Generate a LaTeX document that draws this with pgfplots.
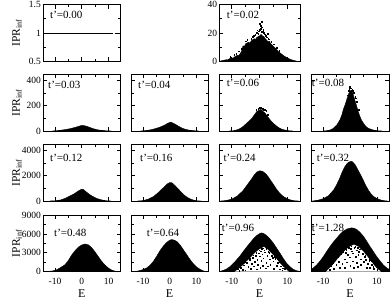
\documentclass[border=0pt]{standalone}
\usepackage{fontspec}
\setmainfont{Liberation Serif}
\usepackage{pgfplots}
\pgfplotsset{compat=1.18}
\pgfplotsset{
  panel/.style={
    scale only axis, height=56.7pt,
    anchor=north west,
    xmin=-14.5, xmax=14.5, ymin=0,
    axis line style={line width=0.8pt},
    every tick/.style={black, line width=0.8pt},
    tick align=inside,
    xtick={-10,0,10}, minor x tick num=1, minor y tick num=1,
    major tick length=4pt, minor tick length=2.5pt,
    xticklabels={}, yticklabels={},
    scaled ticks=false,
    tick label style={font=\fontsize{9.5}{10}\selectfont},
    yticklabel style={inner sep=2pt},
    xticklabel style={yshift=-3pt},
    clip mode=individual,
    every axis y label/.style={at={(rel axis cs:-0.335,0.5)}, rotate=90, anchor=center, font=\fontsize{11.5}{12}\selectfont},
    every axis x label/.style={at={(rel axis cs:0.5,-0.38)}, anchor=center, font=\fontsize{12}{12}\selectfont},
  },
  env/.style={fill=black, draw=black, line width=0.4pt},
  hole/.style={fill=white, draw=none},
  bdot/.style={only marks, mark=square*, mark size=0.35pt, mark options={fill=black, draw=none}},
  wdot/.style={only marks, mark=square*, mark size=0.5pt, mark options={fill=white, draw=none}},
}
\newcommand{\tlab}[3]{\node[anchor=west, inner sep=0pt, font=\fontsize{11}{11}\selectfont, xshift=#1pt, yshift=-#2pt] at (rel axis cs:0,1) {t'=#3};}
\begin{document}
\begin{tikzpicture}
\path[use as bounding box] (0pt,0pt) rectangle (390pt,-299pt);
% ---------------- row 1 ----------------
\begin{axis}[panel, at={(43pt,-4.7pt)}, width=77.7pt, ymin=0.5, ymax=1.5,
  ytick={0.5,1,1.5}, yticklabels={0.5,1,1.5}, ylabel={IPR\textsubscript{inf}}]
\addplot[black, line width=0.9pt] coordinates {(-14.5,1) (11.6,1)};
\addplot[black, line width=0.9pt] coordinates {(12.2,1) (13.2,1)};
\tlab{7}{10.3}{0.00}
\end{axis}
\begin{axis}[panel, at={(219.3pt,-4.7pt)}, width=80.7pt, ymax=40,
  ytick={0,20,40}, yticklabels={0,20,40}]
\addplot[env] coordinates {(-14,0.3) (-13,0.8) (-12,1.2) (-11.5,1.0) (-11,1.8) (-10,2.5) (-9.5,2.2) (-9,3.2) (-8,4.3) (-7.5,4.0) (-7,5.5) (-6.5,7) (-6,11) (-5.5,10.5) (-5,12.5) (-4,13.5) (-3.5,13) (-3,14.5) (-2,16) (-1.5,15.5) (-1,17) (0,18) (0.5,19) (1,18) (1.5,17.5) (2,16) (3,14) (3.5,14.2) (4,12.5) (5,10.5) (6,8.5) (7,6.5) (8,5) (9,3.5) (10,2.5) (11,1.5) (12,0.8) (13,0.3) (13.5,0)} \closedcycle;
\addplot[bdot] coordinates {(-1.1,20.2) (0.1,22.3) (0.45,25.4) (1.05,21.1) (-0.55,19.6) (1.45,20.4) (0.25,23.2) (-2.1,18.1) (2.05,18.2) (3.1,16.1) (-3.05,16.2) (4.1,14.1) (-4.9,14.2) (-6.4,9.1) (-7.6,7.1) (-9.1,4.6) (0.85,24.1) (1.25,22.6) (-0.35,21.2) (2.55,17.1) (3.45,15.6) (5.1,12.1) (6.05,9.6) (-4.45,15.1) (-1.55,18.6) (0.65,20.9) (-0.85,22.1) (1.85,19.2) (-10.55,3.4) (-8.45,5.6) (7.05,7.6) (-0.1,26.5) (0.7,27.8) (-2.6,17.4) (2.8,19.6)};
\tlab{7.4}{10.3}{0.02}
\end{axis}
% ---------------- row 2 ----------------
\begin{axis}[panel, at={(43pt,-74.3pt)}, width=77.7pt, ymax=450,
  ytick={0,200,400}, yticklabels={0,200,400}, ylabel={IPR\textsubscript{inf}}]
\addplot[env] coordinates {(-11,0) (-9.5,2) (-8,6) (-6,12) (-4,20) (-2,32) (-1,38) (0,45) (1,42) (2,36) (3,28) (4,20) (5,14) (6,9) (7,6) (8,4) (9,2) (10.5,0.5) (11,0)} \closedcycle;
\tlab{5}{10.7}{0.03}
\end{axis}
\begin{axis}[panel, at={(131pt,-74.3pt)}, width=77.3pt, ymax=450, ytick={0,200,400}]
\addplot[env] coordinates {(-11,0) (-10,1) (-8,6) (-6,15) (-4,28) (-2,45) (-1,58) (0,68) (0.5,70) (1,65) (2,55) (3,42) (4,30) (5,20) (6,13) (7,8) (8,5) (9,3) (10,1) (11,0)} \closedcycle;
\tlab{7}{10.7}{0.04}
\end{axis}
\begin{axis}[panel, at={(219.3pt,-74.3pt)}, width=80.7pt, ymax=450, ytick={0,200,400}]
\addplot[env] coordinates {(-11,0) (-9.5,2) (-8,10) (-7,20) (-6,35) (-5,55) (-4,75) (-3,95) (-2,125) (-1,155) (0,168) (0.5,172) (1,160) (2,140) (3,110) (4,82) (5,60) (6,40) (7,25) (8,14) (9,8) (10,4) (11,1) (12,0)} \closedcycle;
\addplot[bdot] coordinates {(-0.5,175) (0.05,180) (0.6,185) (1.2,178) (1.8,170) (2.4,160) (-1.2,168) (3,128) (0.3,190) (-0.2,184) (1.5,165)};
\tlab{7.4}{9}{0.06}
\end{axis}
\begin{axis}[panel, at={(311pt,-74.3pt)}, width=78pt, ymax=450, ytick={0,200,400}]
\addplot[env] coordinates {(-10,0) (-8.5,3) (-7.4,8) (-6.2,21) (-4.9,48) (-3.7,90) (-3,130) (-2.5,170) (-1.8,210) (-1.2,250) (-0.6,290) (0,318) (0.5,325) (1.2,290) (1.8,245) (2.5,196) (3.1,150) (3.7,115) (4.3,85) (5,62) (5.6,44) (6.2,30) (7,20) (8,12) (9,6) (10,3) (11,1) (12,0)} \closedcycle;
\addplot[bdot] coordinates {(0.3,340) (0.8,330) (1.5,305) (-0.5,320) (1.9,275) (2.6,230) (0,350) (-0.3,335) (1.1,320) (2.2,260) (3.2,170) (-1,285)};
\tlab{0.7}{9}{0.08}
\end{axis}
% ---------------- row 3 ----------------
\begin{axis}[panel, at={(43pt,-144.3pt)}, width=77.7pt, ymax=4500,
  ytick={0,2000,4000}, yticklabels={0,2000,4000}, ylabel={IPR\textsubscript{inf}}]
\addplot[env] coordinates {(-12,0) (-10,20) (-8,80) (-6,230) (-4,450) (-3,560) (-2,700) (-1,840) (0,940) (0.5,920) (1,840) (2,660) (3,500) (4,370) (5,260) (6,170) (7,110) (8,60) (9,25) (10,8) (11,0)} \closedcycle;
\tlab{7}{14}{0.12}
\end{axis}
\begin{axis}[panel, at={(131pt,-144.3pt)}, width=77.3pt, ymax=4500, ytick={0,2000,4000}]
\addplot[env] coordinates {(-12,0) (-10,30) (-8,150) (-6,360) (-4,720) (-2,1130) (-1,1340) (0,1460) (0.5,1470) (1,1420) (2,1230) (3,1010) (4,780) (5,560) (6,380) (7,240) (8,140) (9,70) (10,25) (11,5) (12,0)} \closedcycle;
\tlab{9}{14}{0.16}
\end{axis}
\begin{axis}[panel, at={(219.3pt,-144.3pt)}, width=80.7pt, ymax=4500, ytick={0,2000,4000}]
\addplot[env] coordinates {(-14,0) (-12,40) (-10,150) (-8,400) (-6,820) (-4,1420) (-3,1720) (-2,2050) (-1,2300) (0,2400) (1,2360) (2,2200) (3,1950) (4,1620) (5,1300) (6,960) (7,680) (8,450) (9,290) (10,180) (11,90) (12,35) (13,10) (14,0)} \closedcycle;
\addplot[wdot] coordinates {(-0.3,300) (0,600) (0.3,150) (0.6,900) (0.8,400) (1.1,700) (1.4,250) (1.7,500) (2,150) (-0.8,200)};
\tlab{4}{14}{0.24}
\end{axis}
\begin{axis}[panel, at={(311pt,-144.3pt)}, width=78pt, ymax=4500, ytick={0,2000,4000}]
\addplot[env] coordinates {(-14,0) (-12,60) (-10,180) (-8,420) (-6,900) (-5,1280) (-4,1720) (-3,2250) (-2,2700) (-1,3000) (0,3130) (0.5,3150) (1,3100) (2,2850) (3,2450) (4,2050) (5,1620) (6,1180) (7,800) (8,520) (9,320) (10,200) (11,110) (12,50) (13,15) (14,0)} \closedcycle;
\addplot[wdot] coordinates {(0,400) (0.3,900) (0.6,1400) (0.5,200) (1,600) (1.2,1100) (1.5,300) (1.8,800) (2.2,150) (-0.5,150) (-0.3,600) (2.5,450) (0.8,1700) (-1.2,200) (3,150)};
\tlab{5.7}{14}{0.32}
\end{axis}
% ---------------- row 4 ----------------
\begin{axis}[panel, at={(43pt,-215pt)}, width=77.7pt, ymax=9000,
  ytick={0,3000,6000,9000}, yticklabels={0,3000,6000,9000}, xticklabels={-10,0,10},
  ylabel={IPR\textsubscript{inf}}, xlabel={E}]
\addplot[env] coordinates {(-14.5,0) (-13,30) (-11,120) (-9.4,300) (-8,640) (-6.3,1100) (-5,1800) (-3.8,2650) (-2.5,3350) (-1.3,3900) (0,4250) (1.2,4400) (2.5,4250) (3.7,3800) (5,3100) (6.1,2420) (7.3,1700) (8.6,1070) (10,550) (11.1,270) (12.3,100) (13.6,20) (14.5,0)} \closedcycle;
\addplot[wdot] coordinates {(0,300) (0.5,800) (0.8,1300) (1,500) (1.3,1000) (1.6,200) (0.2,1100) (-0.5,400) (-1.5,250) (2.5,300) (3.5,150) (4.5,350) (5.5,200) (6.5,150) (-2.5,150) (2,700)};
\tlab{11}{18}{0.48}
\end{axis}
\begin{axis}[panel, at={(131pt,-215pt)}, width=77.3pt, ymax=9000,
  ytick={0,3000,6000,9000}, xticklabels={-10,0,10}, xlabel={E}]
\addplot[env] coordinates {(-14.5,0) (-13,30) (-11.5,150) (-10,330) (-8.6,600) (-7.3,1050) (-6.1,1650) (-4.8,2500) (-3.6,3350) (-2.3,4100) (-1.1,4650) (0,5000) (0.8,5100) (1.8,5000) (2.7,4800) (4,4200) (5.2,3450) (6.5,2650) (7.7,1900) (9,1200) (10.2,720) (11.5,350) (12.5,150) (13.5,40) (14.5,0)} \closedcycle;
\addplot[wdot] coordinates {(-4.1,210) (-3.6,480) (-2.9,140) (-2.45,920) (-2.05,390) (-1.55,1280) (-1.05,210) (-0.95,690) (-0.45,1820) (0.05,380) (-0.1,1120) (0.55,2230) (0.95,160) (1.05,820) (1.45,1480) (1.55,2680) (2.05,290) (1.95,1230) (2.55,1980) (2.95,620) (3.05,1580) (3.45,240) (3.55,1020) (3.95,1880) (4.55,520) (4.95,1190) (5.45,310) (6.05,780) (6.45,410) (7.05,190) (2.2,2400) (0.8,2500) (-0.2,1500) (4.2,700) (5.8,100) (-3.2,650) (0.4,580) (1.7,350) (3.2,90) (4.7,180)};
\tlab{15.7}{18}{0.64}
\end{axis}
\begin{axis}[panel, at={(219.3pt,-215pt)}, width=80.7pt, ymax=9000,
  ytick={0,3000,6000,9000}, xticklabels={-10,0,10}, xlabel={E}]
\addplot[env] coordinates {(-14.5,20) (-13.5,150) (-12,400) (-10.7,800) (-9.5,1300) (-8.3,1870) (-7,2550) (-5.9,3210) (-4.7,3900) (-3.5,4550) (-2.3,5200) (-1.1,5730) (0,6050) (0.7,6160) (1.5,6050) (2.5,5730) (3.7,5200) (4.9,4550) (6.1,3750) (7.3,2950) (8.5,2100) (9.7,1340) (11,750) (12.1,375) (13.3,150) (14.5,40)} \closedcycle;
\addplot[hole] coordinates {(-9,0) (-8.5,150) (-8,320) (-7.3,520) (-6.6,800) (-6,1050) (-5.4,1250) (-4.7,1650) (-4,1900) (-3.3,2250) (-2.7,2500) (-2,2850) (-1.4,3100) (-0.7,3350) (0,3600) (0.6,3700) (1.1,3850) (1.6,3950) (2.2,3700) (3,3500) (3.6,3200) (4.3,2900) (5,2600) (5.7,2200) (6.4,1850) (7,1500) (7.7,1150) (8.4,800) (9,600) (9.8,250) (10.5,0)} \closedcycle;
\addplot[bdot] coordinates {(-7.3,180) (-6.8,620) (-6.1,350) (-5.7,1050) (-5.2,240) (-4.6,1430) (-4.1,760) (-3.7,1820) (-3.2,470) (-2.9,1260) (-2.6,2230) (-2.1,880) (-1.8,1640) (-1.4,2520) (-1.1,380) (-0.9,1960) (-0.6,1130) (-0.3,2940) (0.1,2460) (0.2,650) (0.6,1750) (0.4,3250) (1.1,960) (0.9,2760) (1.6,3420) (1.3,2150) (2.1,560) (1.9,3080) (2.4,1470) (2.7,2570) (3.1,3150) (2.9,870) (3.6,1980) (4.1,2640) (3.8,1160) (4.6,2170) (5.1,460) (4.9,1690) (5.6,2030) (6.2,980) (6.4,1440) (7.1,380) (7.6,860) (8.1,260) (8.4,580) (-0.2,3400) (0.7,3600) (1.2,3750) (2.3,3600) (-1.2,3000) (3.4,3000) (4.4,2500) (-2.3,2600) (-5,1500) (-3.5,2100) (5.3,2400) (6.8,1500) (-7.8,400) (8.9,450)};
\addplot[wdot] coordinates {(-7.2,2150) (-5.3,3150) (-3.1,3750) (-1.2,4250) (0.8,4650) (3.2,4250) (5.1,3350) (6.8,2250) (-4.2,2950) (2.1,4450) (-0.1,4150) (4.3,3750) (6.2,2750) (8.2,1350) (-6.1,2450) (-8.1,1150) (1.5,4900) (-2.2,3900) (5.7,3000) (7.5,1800) (9.2,800) (-9,700) (0.3,4400) (2.7,4150)};
\tlab{2.4}{13}{0.96}
\end{axis}
\begin{axis}[panel, at={(311pt,-215pt)}, width=78pt, ymax=9000,
  ytick={0,3000,6000,9000}, xticklabels={-10,0,10}, xlabel={E}]
\addplot[env] coordinates {(-14.5,350) (-13.5,650) (-12.4,1070) (-11.2,1650) (-9.9,2410) (-8.7,3200) (-7.4,4020) (-6.2,4700) (-4.9,5350) (-3.7,5950) (-2.5,6430) (-1,6800) (0.6,6960) (1.5,6900) (2.5,6700) (3.7,6250) (5,5620) (6.2,4850) (7.4,4020) (8.7,3200) (9.9,2410) (11.2,1700) (12.4,1070) (13.5,650) (14.5,380)} \closedcycle;
\addplot[hole] coordinates {(-9,0) (-8.5,200) (-8,400) (-7.2,750) (-6.5,1050) (-6,1300) (-5.3,1650) (-4.7,2000) (-4,2300) (-3.3,2650) (-2.6,2950) (-2,3300) (-1.3,3600) (-0.6,3800) (0,4000) (0.7,4150) (1.5,4300) (2.2,4150) (3,4000) (3.7,3700) (4.3,3450) (5,3200) (5.7,2800) (6.4,2450) (7,2100) (7.7,1700) (8.3,1400) (9,1000) (9.8,600) (10.5,350) (11,200) (11.5,0)} \closedcycle;
\addplot[bdot] coordinates {(-7.6,310) (-7.1,880) (-6.4,1460) (-6.1,520) (-5.6,1870) (-5.1,1130) (-4.4,2380) (-3.9,690) (-4.1,1620) (-3.4,2760) (-2.9,1230) (-2.6,3080) (-2.1,1980) (-1.9,620) (-1.4,3460) (-1.1,1530) (-0.9,2680) (-0.4,3770) (0.1,910) (-0.1,2320) (0.6,3270) (0.4,4060) (1.1,1680) (0.9,2930) (1.6,3820) (1.4,590) (2.1,2420) (1.9,3980) (2.6,1380) (2.4,3410) (3.1,2720) (2.9,820) (3.6,3580) (4.1,1970) (3.9,1120) (4.6,2880) (5.1,1630) (5.4,2420) (6.1,690) (5.9,1920) (6.6,1280) (7.1,1730) (7.4,610) (8.1,1080) (8.9,520) (10.1,280) (-5,2600) (-3,3300) (0.2,3700) (3.3,3200) (5.6,2600) (7.3,1900) (-6.8,1200) (8.6,800) (2.9,3800) (-1.6,3000)};
\addplot[wdot] coordinates {(-8.1,1220) (-7.1,2480) (-5.9,3230) (-5.1,3680) (-4.1,3520) (-2.9,4280) (-2.1,4430) (-0.9,4880) (0.1,5020) (1.1,5180) (1.9,5020) (3.1,4580) (4.1,4330) (4.9,3780) (6.1,3220) (6.9,2680) (8.1,1820) (8.9,1420) (10.1,880) (-1.5,5200) (2.5,5400) (-3.6,3900) (0.6,4600) (3.6,4900) (5.6,3500) (7.6,2400) (9.6,1100) (-6.6,2900)};
\tlab{0.7}{13}{1.28}
\end{axis}
\end{tikzpicture}
\end{document}
